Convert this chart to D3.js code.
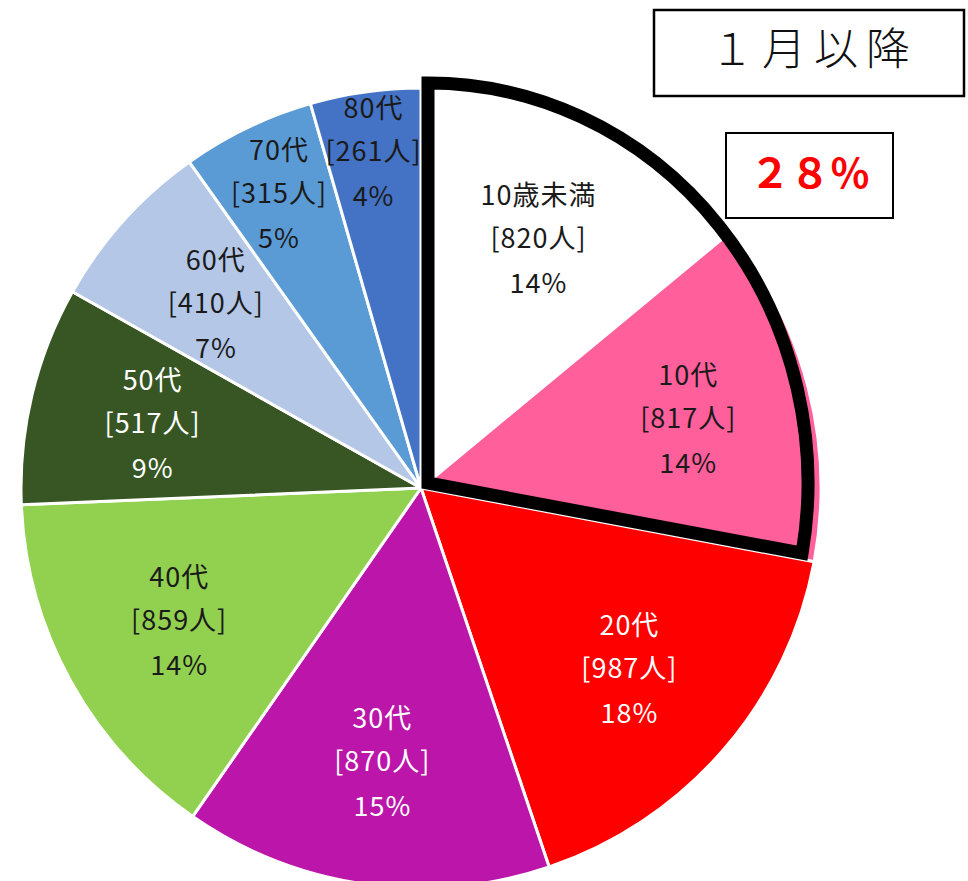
<!DOCTYPE html>
<html>
<head>
<meta charset="utf-8">
<script src="https://cdn.jsdelivr.net/npm/d3@7"></script>
<style>
  body { margin: 0; background: #fff; }
  text { font-family: "Noto Sans CJK JP", "Noto Sans", sans-serif; }
</style>
</head>
<body>
<script>
const categories = ["10歳未満", "10代", "20代", "30代", "40代", "50代", "60代", "70代", "80代"];
const counts = [820, 817, 987, 870, 859, 517, 410, 315, 261];
const percents = ["14%", "14%", "18%", "15%", "14%", "9%", "7%", "5%", "4%"];
const titleText = "１月以降";
const shareText = "２８％";

const width = 968, height = 881;
const cx = 421, cy = 488, R = 400;

const svg = d3.select("body").append("svg")
    .attr("width", width)
    .attr("height", height);

const rows = categories.map((c, i) => ({ name: c, count: counts[i], pct: percents[i] }));

const color = d3.scaleOrdinal()
    .domain(categories)
    .range(["#ffffff", "#ff5f9b", "#ff0000", "#bb16a9", "#92d050", "#375623", "#b4c7e7", "#5b9bd5", "#4472c4"]);
const textColor = d3.scaleOrdinal()
    .domain(categories)
    .range(["#1a1a1a", "#1a1a1a", "#ffffff", "#ffffff", "#1a1a1a", "#ffffff", "#1a1a1a", "#1a1a1a", "#1a1a1a"]);

const pie = d3.pie().sort(null).value(d => d.count);
const arcs = pie(rows);
const arc = d3.arc().innerRadius(0).outerRadius(R);

const g = svg.append("g").attr("transform", `translate(${cx},${cy})`);

g.selectAll("path.slice")
    .data(arcs)
    .join("path")
    .attr("class", "slice")
    .attr("d", arc)
    .attr("fill", d => color(d.data.name))
    .attr("stroke", "#fff")
    .attr("stroke-width", 3)
    .attr("stroke-linejoin", "round");

// labels: push narrow slices outward so the text fits
function labelRadius(d) {
    const half = (d.endAngle - d.startAngle) / 2;
    const need = 110 / (2 * Math.sin(half));
    return Math.max(0.69 * R, Math.min(0.85 * R, need));
}

const labels = g.selectAll("g.label")
    .data(arcs)
    .join("g")
    .attr("class", "label")
    .attr("transform", d => {
        const r = labelRadius(d);
        const c = d3.arc().innerRadius(r).outerRadius(r).centroid(d);
        return `translate(${c[0]},${c[1]})`;
    })
    .attr("fill", d => textColor(d.data.name))
    .attr("font-size", 27)
    .attr("letter-spacing", 1)
    .attr("text-anchor", "middle");

labels.append("text").attr("y", -43).attr("dy", "0.35em").text(d => d.data.name);
labels.append("text").attr("y", 0).attr("dy", "0.35em").text(d => `[${d.data.count}人]`);
labels.append("text").attr("y", 45).attr("dy", "0.35em").text(d => d.data.pct);

// thick outline around the first two slices
const a0 = arcs[0].startAngle, a1 = arcs[1].endAngle;
const ox = 428, oy = 483, rx = 380, ry = 400;
function ellPt(a) {
    const dx = Math.sin(a), dy = -Math.cos(a);
    const t = 1 / Math.sqrt((dx / rx) ** 2 + (dy / ry) ** 2);
    return [ox + dx * t, oy + dy * t];
}
const p0 = ellPt(a0), p1 = ellPt(a1);
svg.append("path")
    .attr("d", `M${ox},${oy}L${p0[0]},${p0[1]}A${rx},${ry} 0 ${a1 - a0 > Math.PI ? 1 : 0} 1 ${p1[0]},${p1[1]}Z`)
    .attr("fill", "none")
    .attr("stroke", "#000")
    .attr("stroke-width", 13)
    .attr("stroke-linejoin", "miter");

// title box
svg.append("rect")
    .attr("x", 654).attr("y", 10).attr("width", 310).attr("height", 86)
    .attr("fill", "#fff").attr("stroke", "#000").attr("stroke-width", 2.5);
svg.append("text")
    .attr("x", 814).attr("y", 50)
    .attr("dy", "0.35em")
    .attr("text-anchor", "middle")
    .attr("font-size", 44)
    .attr("font-weight", 300)
    .attr("letter-spacing", 8)
    .attr("fill", "#111")
    .text(titleText);

// share box
svg.append("rect")
    .attr("x", 726).attr("y", 133).attr("width", 167).attr("height", 85)
    .attr("fill", "#fff").attr("stroke", "#000").attr("stroke-width", 2);
svg.append("text")
    .attr("x", 810).attr("y", 174)
    .attr("dy", "0.35em")
    .attr("text-anchor", "middle")
    .attr("font-size", 40)
    .attr("font-weight", "bold")
    .attr("fill", "#ff0000")
    .text(shareText);
</script>
</body>
</html>
